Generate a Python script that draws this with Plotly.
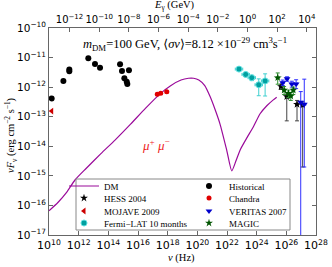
import numpy as np
import plotly.graph_objects as go

# ---------------- data (log10 values) ----------------
dm_lognu = [10.0, 10.6, 11.2, 11.75, 12.5, 13.5, 14.45, 15.5, 16.5, 17.5, 18.2, 18.9, 19.4, 19.75,
            20.1, 20.5, 20.86, 21.19, 21.53, 21.98, 22.32, 22.6, 22.88, 23.3, 23.78, 24.23, 24.7, 25.12, 25.35]
dm_logF = [-16.18, -15.9, -15.55, -15.14, -14.75, -14.25, -13.79, -13.25, -12.72, -12.22, -11.95,
           -11.76, -11.70, -11.70, -11.76, -11.95, -12.32, -12.75, -13.25, -14.13, -14.83, -14.50,
           -14.13, -13.75, -13.34, -12.90, -12.62, -12.43, -12.34]

hist_lognu = [10.18, 10.97, 11.37, 11.37, 12.65, 13.10, 13.44, 14.79, 14.92, 15.39, 15.08, 15.24, 15.28]
hist_logF = [-12.38, -11.79, -11.40, -11.46, -11.02, -11.22, -11.34, -11.23, -11.45, -11.43, -11.70, -11.82, -11.89]

mojave_lognu = [10.18]
mojave_logF = [-12.81]

chandra_lognu = [17.30, 17.53, 17.94]
chandra_logF = [-12.24, -12.21, -12.16]
chandra_dx = [0.12, 0.12, 0.12]

fermi_lognu = [22.81, 23.26, 23.67, 24.14, 24.57]
fermi_logF = [-11.39, -11.57, -11.68, -11.92, -11.79]
fermi_dx = [0.25, 0.25, 0.25, 0.25, 0.25]
fermi_hi = [-11.36, -11.52, -11.60, -11.72, -11.55]
fermi_lo = [-11.42, -11.62, -11.78, -12.29, -12.30]

hess_lognu = [25.64, 26.03, 26.72, 27.10]
hess_logF = [-11.98, -12.32, -12.58, -12.61]
hess_dx = [0.1, 0.1, 0.1, 0.1]
hess_hi = [-11.90, -12.20, -12.45, -12.50]
hess_lo = [-12.08, -13.14, -13.14, -14.70]

veritas_lognu = [25.76, 26.05, 26.37, 26.66, 26.97, 27.21]
veritas_logF = [-11.85, -11.72, -11.89, -11.89, -12.51, -12.58]
veritas_dx = [0.1, 0.1, 0.1, 0.1, 0.1, 0.1]
veritas_hi = [-11.76, -11.65, -11.80, -11.75, -12.15, -11.73]
veritas_lo = [-11.95, -11.80, -12.00, -12.05, -18.0, -14.70]

magic_lognu = [25.42, 25.85, 26.14, 26.30, 26.47]
magic_logF = [-11.68, -12.10, -12.21, -12.30, -12.10]
magic_dx = [0.1, 0.1, 0.1, 0.1, 0.1]
magic_hi = [-11.52, -11.98, -12.10, -12.18, -12.00]
magic_lo = [-11.90, -12.25, -12.35, -12.45, -12.25]

x_range_exp = [10, 28]
y_range_exp = [-17, -10]
x_ticks_exp = list(range(10, 29, 2))
y_ticks_exp = list(range(-17, -9))
top_ticks_exp = list(range(-12, 5, 2))
H_GEV_S = 4.1357e-24  # Planck constant in GeV s

# ---------------- helpers ----------------
def p(v):
    return [10.0 ** a for a in v]

def xerr(lognu, dx, color):
    x = np.array(p(lognu))
    up = np.array(p([a + d for a, d in zip(lognu, dx)])) - x
    dn = x - np.array(p([a - d for a, d in zip(lognu, dx)]))
    return dict(type='data', symmetric=False, array=list(up), arrayminus=list(dn),
                thickness=1, width=1.5, color=color)

def yerr(logF, hi, lo, color):
    y = np.array(p(logF))
    up = np.array(p(hi)) - y
    dn = y - np.array(p(lo))
    return dict(type='data', symmetric=False, array=list(up), arrayminus=list(dn),
                thickness=1, width=2, color=color)

SERIF = "Liberation Serif, DejaVu Serif, serif"
SANS = "DejaVu Sans, sans-serif"

fig = go.Figure()

fig.add_trace(go.Scatter(x=p(dm_lognu), y=p(dm_logF), mode='lines', name='DM', legend='legend',
                         line=dict(color='#9a0a9a', width=1.2, shape='spline', smoothing=0.6)))
fig.add_trace(go.Scatter(x=p(hist_lognu), y=p(hist_logF), mode='markers', name='Historical', legend='legend2',
                         marker=dict(color='black', size=6)))
fig.add_trace(go.Scatter(x=p(hess_lognu), y=p(hess_logF), mode='markers', name='HESS 2004', legend='legend3',
                         marker=dict(color='black', size=6, symbol='star'),
                         error_x=xerr(hess_lognu, hess_dx, '#444'),
                         error_y=yerr(hess_logF, hess_hi, hess_lo, '#444')))
fig.add_trace(go.Scatter(x=p(chandra_lognu), y=p(chandra_logF), mode='markers', name='Chandra', legend='legend4',
                         marker=dict(color='#e00000', size=5),
                         error_x=xerr(chandra_lognu, chandra_dx, '#ff6060')))
fig.add_trace(go.Scatter(x=p(mojave_lognu), y=p(mojave_logF), mode='markers', name='MOJAVE 2009', legend='legend5',
                         marker=dict(color='#cc0000', size=6, symbol='triangle-left')))
fig.add_trace(go.Scatter(x=p(veritas_lognu), y=p(veritas_logF), mode='markers', name='VERITAS 2007',
                         legend='legend6',
                         marker=dict(color='#0000cc', size=6, symbol='triangle-down'),
                         error_x=xerr(veritas_lognu, veritas_dx, '#4040ff'),
                         error_y=yerr(veritas_logF, veritas_hi, veritas_lo, '#3030ff')))
fig.add_trace(go.Scatter(x=p(fermi_lognu), y=p(fermi_logF), mode='markers', name='Fermi\u2212LAT 10 months',
                         legend='legend7',
                         marker=dict(color='#00a0a0', size=6, line=dict(color='#60e0e0', width=1)),
                         error_x=xerr(fermi_lognu, fermi_dx, '#40d0d0'),
                         error_y=yerr(fermi_logF, fermi_hi, fermi_lo, '#40d0d0')))
fig.add_trace(go.Scatter(x=p(magic_lognu), y=p(magic_logF), mode='markers', name='MAGIC', legend='legend8',
                         marker=dict(color='#005500', size=6, symbol='star'),
                         error_x=xerr(magic_lognu, magic_dx, '#309030'),
                         error_y=yerr(magic_logF, magic_hi, magic_lo, '#309030')))
# invisible carrier so that the top (photon energy) axis is drawn
fig.add_trace(go.Scatter(x=[H_GEV_S * v for v in p(x_range_exp)], y=p(y_range_exp), xaxis='x2',
                         mode='markers', marker=dict(opacity=0), showlegend=False, hoverinfo='skip'))

def sup(e):
    return "10<sup>%s</sup>" % (str(e).replace('-', '\u2212'))

axis_line = '#666666'
PLOT_L, PLOT_R, PLOT_T, PLOT_B = 49, 316, 28, 235
def row_y(pix):
    return (PLOT_B - pix) / (PLOT_B - PLOT_T)
def col_x(pix):
    return (pix - PLOT_L) / (PLOT_R - PLOT_L)

leg_common = dict(orientation='v', yanchor='middle', xanchor='left', bgcolor='rgba(0,0,0,0)', borderwidth=0,
                  font=dict(family=SERIF, size=9, color='black'), itemwidth=30)
C1, C2 = col_x(64), col_x(189)
R = [row_y(186), row_y(198), row_y(211), row_y(223)]
fig.update_layout(
    width=332, height=267,
    margin=dict(l=PLOT_L, r=332 - PLOT_R, t=PLOT_T, b=267 - PLOT_B, autoexpand=False),
    paper_bgcolor='white', plot_bgcolor='white',
    showlegend=True,
    legend=dict(leg_common, x=C1, y=R[0]),
    legend2=dict(leg_common, x=C2, y=R[0]),
    legend3=dict(leg_common, x=C1, y=R[1]),
    legend4=dict(leg_common, x=C2, y=R[1]),
    legend5=dict(leg_common, x=C1, y=R[2]),
    legend6=dict(leg_common, x=C2, y=R[2]),
    legend7=dict(leg_common, x=C1, y=R[3]),
    legend8=dict(leg_common, x=C2, y=R[3]),
    xaxis=dict(type='log', range=x_range_exp, tickvals=p(x_ticks_exp), ticktext=[sup(e) for e in x_ticks_exp],
               ticks='inside', ticklen=4, tickcolor=axis_line, showline=True, linecolor=axis_line,
               linewidth=1, showgrid=False, zeroline=False,
               tickfont=dict(family=SANS, size=11, color='black')),
    xaxis2=dict(type='log', overlaying='x', side='top', anchor='y',
                range=[np.log10(H_GEV_S * 10.0 ** x_range_exp[0]), np.log10(H_GEV_S * 10.0 ** x_range_exp[1])],
                tickvals=p(top_ticks_exp), ticktext=[sup(e) for e in top_ticks_exp],
                ticks='inside', ticklen=4, tickcolor=axis_line, showline=True, linecolor=axis_line,
                linewidth=1, showgrid=False, zeroline=False,
                tickfont=dict(family=SANS, size=10, color='black')),
    yaxis=dict(type='log', range=y_range_exp, tickvals=p(y_ticks_exp), ticktext=[sup(e) for e in y_ticks_exp],
               ticks='inside', ticklen=4, tickcolor=axis_line, showline=True, linecolor=axis_line,
               linewidth=1, mirror='ticks', showgrid=False, zeroline=False,
               tickfont=dict(family=SANS, size=10.5, color='black')),
    shapes=[dict(type='rect', xref='paper', yref='paper', x0=col_x(76), x1=col_x(290), y0=row_y(230), y1=row_y(179),
                 fillcolor='white', line=dict(color='#888', width=1), layer='above')],
    annotations=[
        dict(text="<i>m</i><sub>DM</sub>=100 GeV, \u27e8<i>\u03c3v</i>\u27e9=8.12 \u00d710<sup>\u221229</sup> cm<sup>3</sup>s<sup>\u22121</sup>",
             xref='paper', yref='paper', x=col_x(185), y=row_y(44), xanchor='center', yanchor='middle',
             showarrow=False, font=dict(family=SERIF, size=12.5, color='black')),
        dict(text="<i>\u03bc</i><sup>+</sup> <i>\u03bc</i><sup>\u2212</sup>", xref='paper', yref='paper',
             x=col_x(156), y=row_y(145), xanchor='center', yanchor='middle', showarrow=False,
             font=dict(family=SERIF, size=13, color='#ee2222')),
        dict(text="<i>\u03bd</i> (Hz)", xref='paper', yref='paper', x=col_x(181), y=row_y(258),
             xanchor='center', yanchor='middle',
             showarrow=False, font=dict(family=SERIF, size=10.5, color='black')),
        dict(text="<i>E</i><sub>\u03b3</sub> (GeV)", xref='paper', yref='paper', x=col_x(174), y=row_y(6),
             xanchor='center', yanchor='middle', showarrow=False, font=dict(family=SERIF, size=10.5, color='black')),
        dict(text="<i>\u03bd</i><i>F</i><sub>\u03bd</sub> (erg cm<sup>\u22122</sup> s<sup>\u22121</sup>)",
             xref='paper', yref='paper', x=col_x(11), y=row_y(135), xanchor='center', yanchor='middle',
             textangle=-90, showarrow=False,
             font=dict(family=SERIF, size=10.5, color='black')),
    ],
)

fig.write_html("out.html", post_script="document.body.style.margin='0';",
               config={'displayModeBar': False})
